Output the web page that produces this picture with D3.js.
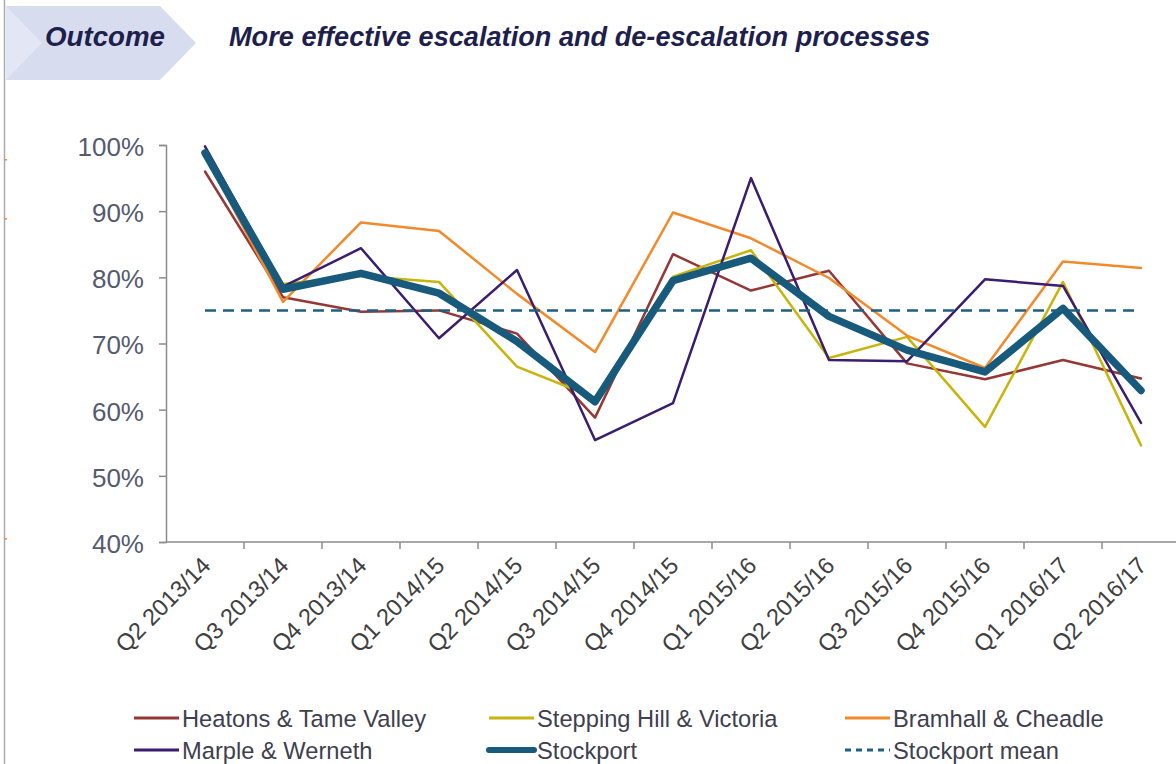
<!DOCTYPE html>
<html>
<head>
<meta charset="utf-8">
<script src="https://cdn.jsdelivr.net/npm/d3@7"></script>
<style>
  body { margin: 0; background: #fff; }
  svg { display: block; font-family: Arial, 'Liberation Sans', sans-serif; }
</style>
</head>
<body>
<svg></svg>
<script>
'use strict';

// Data
var quarters = ['Q2 2013/14', 'Q3 2013/14', 'Q4 2013/14', 'Q1 2014/15', 'Q2 2014/15', 'Q3 2014/15',
    'Q4 2014/15', 'Q1 2015/16', 'Q2 2015/16', 'Q3 2015/16', 'Q4 2015/16', 'Q1 2016/17', 'Q2 2016/17'];
var heatons = [96, 77, 74.8, 75, 71.5, 58.8, 83.5, 78, 81, 67, 64.6, 67.5, 64.7];
var steppingHill = [99, 79, 80.2, 79.3, 66.5, 61.8, 80.1, 84.1, 67.8, 71, 57.4, 79.3, 54.6];
var bramhall = [98.5, 76.3, 88.3, 87, 77.5, 68.7, 89.8, 85.9, 79.9, 71.2, 66.3, 82.4, 81.4];
var marple = [99.8, 78.6, 84.4, 70.8, 81.1, 55.4, 61, 95, 67.5, 67.3, 79.7, 78.7, 58];
var stockport = [98.8, 78.2, 80.6, 77.6, 70.3, 61.2, 79.5, 82.9, 74.1, 69, 65.7, 75.3, 62.9];
var stockportMean = 75;
var yTicks = [40, 50, 60, 70, 80, 90, 100];

var outcomeLabel = 'Outcome';
var titleText = 'More effective escalation and de-escalation processes';

var series = [
    {name: 'Heatons & Tame Valley', values: heatons, color: '#953735', width: 2.5},
    {name: 'Stepping Hill & Victoria', values: steppingHill, color: '#c8b40a', width: 2.5},
    {name: 'Bramhall & Cheadle', values: bramhall, color: '#f28a2b', width: 2.5},
    {name: 'Marple & Werneth', values: marple, color: '#3a1d6e', width: 2.5},
    {name: 'Stockport', values: stockport, color: '#175a7c', width: 7.5}
];

var canvasWidth = 1176;
var canvasHeight = 764;
var svg = d3.select('svg')
    .attr('width', canvasWidth)
    .attr('height', canvasHeight);

svg.append('rect')
    .attr('width', canvasWidth)
    .attr('height', canvasHeight)
    .attr('fill', '#fff');

// left page rule and little marks
svg.append('line')
    .attr('x1', 4.5).attr('x2', 4.5)
    .attr('y1', 0).attr('y2', canvasHeight)
    .attr('stroke', '#a9aab8')
    .attr('stroke-width', 1.5);
[159, 218, 538].forEach(function(y) {
    svg.append('rect')
        .attr('x', 4).attr('y', y)
        .attr('width', 3).attr('height', 1.5)
        .attr('fill', '#f08a3a');
});

// header banner
svg.append('polygon')
    .attr('points', '6,6 160,6 196,43 160,80 6,80')
    .attr('fill', '#d7dcef');
svg.append('polygon')
    .attr('points', '6,6 42,43 6,80')
    .attr('fill', '#e3e6f4');
svg.append('text')
    .attr('x', 45)
    .attr('y', 46)
    .attr('font-size', 28)
    .attr('font-weight', 'bold')
    .attr('font-style', 'italic')
    .attr('fill', '#1f1f4d')
    .attr('textLength', 120)
    .attr('lengthAdjust', 'spacingAndGlyphs')
    .text(outcomeLabel);
svg.append('text')
    .attr('x', 229)
    .attr('y', 46)
    .attr('font-size', 27)
    .attr('font-weight', 'bold')
    .attr('font-style', 'italic')
    .attr('fill', '#1f1f4d')
    .attr('textLength', 701)
    .attr('lengthAdjust', 'spacingAndGlyphs')
    .text(titleText);

// scales
var plotLeft = 166;
var plotRight = 1180;
var plotTop = 145;
var plotBottom = 542;

var xScale = d3.scaleBand()
    .domain(quarters)
    .range([plotLeft, plotRight]);
var yScale = d3.scaleLinear()
    .domain([40, 100])
    .range([plotBottom, plotTop]);
var xPoint = function(d, i) { return xScale(quarters[i]) + xScale.bandwidth() / 2; };

// y axis
var yAxis = svg.append('g')
    .attr('transform', 'translate(' + plotLeft + ',0)')
    .call(d3.axisLeft(yScale)
        .tickValues(yTicks)
        .tickSize(7)
        .tickPadding(15)
        .tickFormat(function(d) { return d + '%'; }));
yAxis.select('.domain').attr('stroke', '#8c8c8c').attr('stroke-width', 1.5);
yAxis.selectAll('.tick line').attr('stroke', '#8c8c8c').attr('stroke-width', 1.5);
yAxis.selectAll('.tick text')
    .attr('font-size', 26)
    .attr('font-family', 'Arial, Liberation Sans, sans-serif')
    .attr('fill', '#555a6e')
    .attr('dy', '0.4em');

// x axis, ticks sit between the categories
var xAxisG = svg.append('g');
xAxisG.append('line')
    .attr('x1', plotLeft).attr('x2', plotRight)
    .attr('y1', plotBottom).attr('y2', plotBottom)
    .attr('stroke', '#8c8c8c')
    .attr('stroke-width', 1.5);
xAxisG.selectAll('.xtick')
    .data(quarters)
    .enter()
    .append('line')
    .attr('class', 'xtick')
    .attr('x1', function(d) { return xScale(d) + xScale.bandwidth(); })
    .attr('x2', function(d) { return xScale(d) + xScale.bandwidth(); })
    .attr('y1', plotBottom)
    .attr('y2', plotBottom + 7)
    .attr('stroke', '#8c8c8c')
    .attr('stroke-width', 1.5);
xAxisG.selectAll('.xlabel')
    .data(quarters)
    .enter()
    .append('text')
    .attr('class', 'xlabel')
    .attr('text-anchor', 'end')
    .attr('font-size', 23.5)
    .attr('fill', '#404040')
    .attr('transform', function(d) {
        return 'translate(' + (xScale(d) + xScale.bandwidth() / 2 + 7) + ',' + 567 + ') rotate(-45)';
    })
    .text(function(d) { return d; });

// lines
var line = d3.line()
    .x(xPoint)
    .y(function(d) { return yScale(d); });

svg.selectAll('.series')
    .data(series)
    .enter()
    .append('path')
    .attr('class', 'series')
    .attr('d', function(d) { return line(d.values); })
    .attr('fill', 'none')
    .attr('stroke', function(d) { return d.color; })
    .attr('stroke-width', function(d) { return d.width; })
    .attr('stroke-linejoin', 'round')
    .attr('stroke-linecap', 'round');

// stockport mean, dashed
var meanValues = quarters.map(function() { return stockportMean; });
svg.append('path')
    .attr('d', line(meanValues))
    .attr('fill', 'none')
    .attr('stroke', '#1f5f7f')
    .attr('stroke-width', 2.5)
    .attr('stroke-dasharray', '11,7');

// legend
var legendItems = series.slice(0, 4).concat([series[4], {name: 'Stockport mean', color: '#1f5f7f', width: 2.5, dash: '6,5'}]);
var legendCols = [134, 489, 845];
var legendRows = [718, 750];
var legend = svg.selectAll('.legend')
    .data(legendItems)
    .enter()
    .append('g')
    .attr('class', 'legend')
    .attr('transform', function(d, i) {
        return 'translate(' + legendCols[i % 3] + ',' + legendRows[Math.floor(i / 3)] + ')';
    });
legend.append('line')
    .attr('x1', 0).attr('x2', 45)
    .attr('y1', 0).attr('y2', 0)
    .attr('stroke', function(d) { return d.color; })
    .attr('stroke-width', function(d) { return d.width > 5 ? 6 : 3; })
    .attr('stroke-linecap', function(d) { return d.width > 5 ? 'round' : 'butt'; })
    .attr('stroke-dasharray', function(d) { return d.dash || null; });
legend.append('text')
    .attr('x', 48)
    .attr('y', 0)
    .attr('dy', '0.36em')
    .attr('font-size', 23.7)
    .attr('fill', '#3f3f4f')
    .text(function(d) { return d.name; });
</script>
</body>
</html>
